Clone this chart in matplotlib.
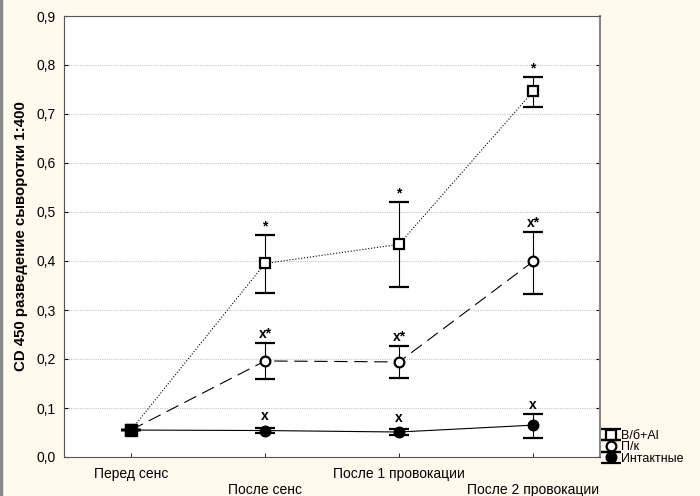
import matplotlib
matplotlib.use("Agg")
import matplotlib.pyplot as plt
from matplotlib.lines import Line2D
from matplotlib.ticker import FuncFormatter, MultipleLocator
from matplotlib.legend_handler import HandlerErrorbar

plt.rcParams['font.family'] = ['Liberation Sans', 'DejaVu Sans']

categories = ["Перед сенс", "После сенс", "После 1 провокации", "После 2 провокации"]

# Series values (mean, upper error end, lower error end)
vb_mean = [0.055, 0.395, 0.434, 0.746]
vb_up = [0.055, 0.454, 0.520, 0.775]
vb_lo = [0.055, 0.335, 0.346, 0.714]

pk_mean = [0.055, 0.196, 0.194, 0.399]
pk_up = [0.055, 0.233, 0.227, 0.460]
pk_lo = [0.055, 0.160, 0.162, 0.333]

int_mean = [0.055, 0.054, 0.051, 0.065]
int_up = [0.055, 0.060, 0.057, 0.088]
int_lo = [0.055, 0.048, 0.045, 0.039]

vb_marks = ["", "*", "*", "*"]
pk_marks = ["", "x*", "x*", "x*"]
int_marks = ["", "x", "x", "x"]

series_labels = ["В/б+Al", "П/к", "Интактные"]

bg = "#FFF9EE"
fig = plt.figure(figsize=(7.0, 4.96), dpi=100, facecolor=bg)
ax = fig.add_axes([64/700, 1-457/496, (600-64)/700, (457-16)/496])
ax.set_facecolor("white")

x = list(range(len(categories)))

def draw(mean, up, lo, ls, mfc, marker, label, dashes=None):
    yerr = [[m - l for m, l in zip(mean, lo)], [u - m for m, u in zip(mean, up)]]
    kw = dict(dashes=dashes) if dashes else {}
    c = ax.errorbar(x, mean, yerr=yerr, fmt=marker, ls=ls, color="black", lw=0.8,
                    mfc=mfc, mec="black", mew=1.6, ms=7, ecolor="black",
                    elinewidth=0.8, capsize=7, capthick=0.8, label=label, zorder=3, **kw)
    return c

h1 = draw(vb_mean, vb_up, vb_lo, ":", "white", "s", series_labels[0])
h2 = draw(pk_mean, pk_up, pk_lo, "--", "white", "o", series_labels[1], dashes=(12, 6))
h3 = draw(int_mean, int_up, int_lo, "-", "black", "o", series_labels[2])
# first point filled square shared
ax.plot([0], [vb_mean[0]], marker="s", color="black", ms=8, zorder=5, ls="none")

for marks, up, mean in [(vb_marks, vb_up, vb_mean), (pk_marks, pk_up, pk_mean), (int_marks, int_up, int_mean)]:
    for i, t in enumerate(marks):
        if not t:
            continue
        top = max(up[i], mean[i] + 0.012)
        ax.annotate(t, (x[i], top), xytext=(0, 1), textcoords="offset points",
                    ha="center", va="bottom", fontsize=10, fontweight="bold", zorder=6)

ax.set_xlim(-0.5, 3.5)
ax.set_ylim(0, 0.9)
ax.yaxis.set_major_locator(MultipleLocator(0.1))
ax.yaxis.set_major_formatter(FuncFormatter(lambda v, p: f"{v:.1f}".replace(".", ",")))
ax.set_xticks(x)
ax.set_xticklabels([c if i % 2 == 0 else "\n" + c for i, c in enumerate(categories)], fontsize=10)
ax.tick_params(axis="x", direction="in", length=3, width=0.6, pad=7)
ax.tick_params(axis="y", direction="in", labelsize=10, pad=6, right=True, length=3, width=0.8)
ax.grid(axis="y", color="#c8c8c8", ls=(0, (1, 1)), lw=0.8)
ax.set_axisbelow(True)
for s in ["left", "bottom", "top"]:
    ax.spines[s].set_color("#555555")
    ax.spines[s].set_linewidth(0.8)
ax.spines["right"].set_color("#888888")
ax.spines["right"].set_linewidth(1.5)

ax.set_ylabel("CD 450 разведение сыворотки 1:400", fontsize=10.8, fontweight="bold", labelpad=6)

leg = fig.legend(handles=[h1, h2, h3], labels=series_labels, loc="upper left",
                 bbox_to_anchor=(607/700, 1-430/496), frameon=False, fontsize=9,
                 handlelength=0.7, handletextpad=0.4, labelspacing=-0.05, borderpad=0,
                 borderaxespad=0,
                 handler_map={type(h1): HandlerErrorbar(yerr_size=0.45)})

fig.add_artist(Line2D([0.002, 0.002], [0, 1], color="#888888", lw=2.5, transform=fig.transFigure))

fig.savefig("out.png", dpi=100, facecolor=bg)
